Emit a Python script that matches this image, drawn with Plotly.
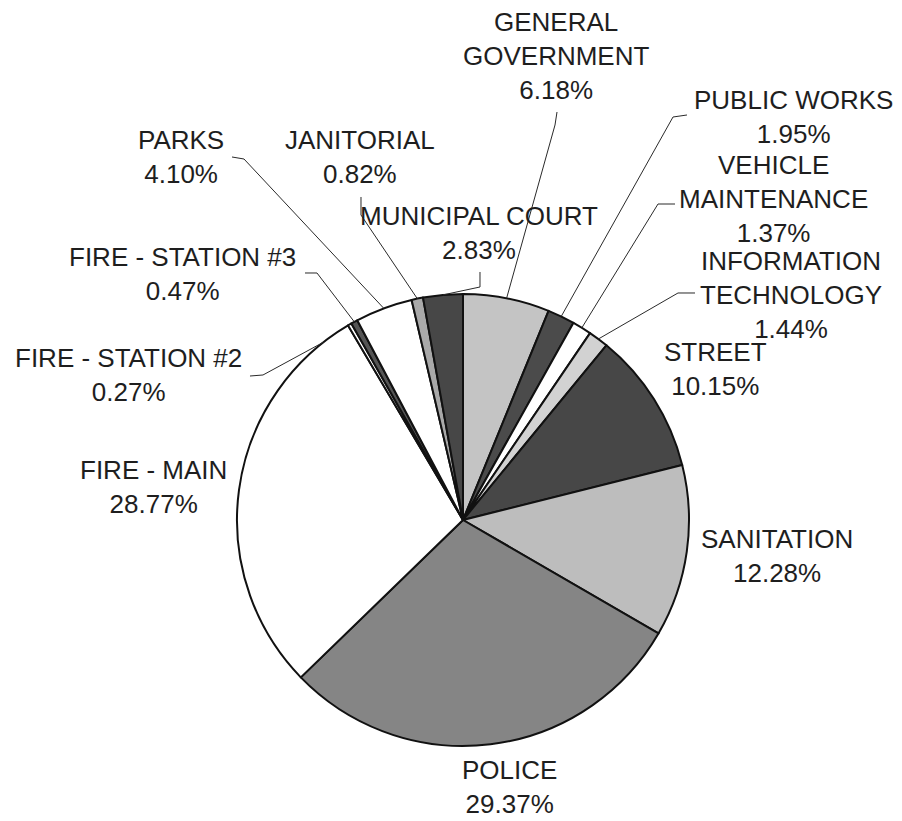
import math
import plotly.graph_objects as go

# Departmental share of the budget, clockwise from 12 o'clock
departments = [
    "GENERAL<br>GOVERNMENT", "PUBLIC WORKS", "VEHICLE<br>MAINTENANCE",
    "INFORMATION<br>TECHNOLOGY", "STREET", "SANITATION", "POLICE",
    "FIRE - MAIN", "FIRE - STATION #2", "FIRE - STATION #3", "PARKS",
    "JANITORIAL", "MUNICIPAL COURT",
]
shares = [6.18, 1.95, 1.37, 1.44, 10.15, 12.28, 29.37,
          28.77, 0.27, 0.47, 4.10, 0.82, 2.83]
slice_colors = ["#c4c4c4", "#4b4b4b", "#ffffff", "#d2d2d2", "#474747",
                "#bdbdbd", "#858585", "#ffffff", "#ffffff", "#555555",
                "#ffffff", "#a9a9a9", "#474747"]

# Canvas and pie geometry (pixels)
W, H = 902, 821
CX, CY, R = 463, 520, 226

# Label block centres (pixels)
label_pos = [
    (556, 56), (793, 117), (773, 199), (791, 295), (715, 369),
    (777, 556), (509, 787), (153, 487), (128, 375), (182, 274),
    (181, 157), (360, 157), (479, 233),
]
# Leader lines: label-side points (pixels) and an angular nudge (deg);
# None means the label sits next to its slice without a leader
leaders = [
    ([(557, 112), (555, 125)], 0),
    ([(687, 115), (673, 117)], 0),
    ([(675, 204), (658, 204)], 0),
    ([(695, 293), (678, 293)], 0),
    None, None, None, None,
    ([(250, 376), (263, 375)], -8),
    ([(305, 273), (317, 273)], 0),
    ([(232, 157), (244, 159)], 0),
    ([(361, 197), (361, 215)], 0),
    ([(480, 272), (480, 287)], 0),
]


def px(x, y):
    return x / W, 1 - y / H


fig = go.Figure(go.Pie(
    labels=[d.replace("<br>", " ") for d in departments],
    values=shares,
    sort=False,
    direction="clockwise",
    rotation=0,
    textinfo="none",
    marker=dict(colors=slice_colors, line=dict(color="#111111", width=2)),
    domain=dict(x=[(CX - R) / W, (CX + R) / W],
                y=[1 - (CY + R) / H, 1 - (CY - R) / H]),
    showlegend=False,
))

annotations = []
shapes = []
total = sum(shares)
cum = 0.0
for name, val, (lx, ly), lead in zip(departments, shares, label_pos, leaders):
    mid = (cum + val / 2) / total * 360.0
    cum += val
    x, y = px(lx, ly)
    annotations.append(dict(
        x=x, y=y, xref="paper", yref="paper", showarrow=False,
        text=f"{name}<br>{val:.2f}%", align="center",
        xanchor="center", yanchor="middle",
        font=dict(family="Liberation Sans, Arial, sans-serif", size=26,
                  color="#1e1e1e"),
    ))
    if lead is None:
        continue
    pts, nudge = lead
    a = math.radians(mid + nudge)
    ex, ey = CX + R * math.sin(a), CY - R * math.cos(a)
    path_pts = [px(*p) for p in pts] + [px(ex, ey)]
    path = "M " + " L ".join(f"{u:.5f},{v:.5f}" for u, v in path_pts)
    shapes.append(dict(type="path", path=path, xref="paper", yref="paper",
                       line=dict(color="#2a2a2a", width=1)))

fig.update_layout(
    width=W, height=H,
    margin=dict(l=0, r=0, t=0, b=0),
    paper_bgcolor="white", plot_bgcolor="white",
    annotations=annotations, shapes=shapes,
)

fig.write_html("out.html")
